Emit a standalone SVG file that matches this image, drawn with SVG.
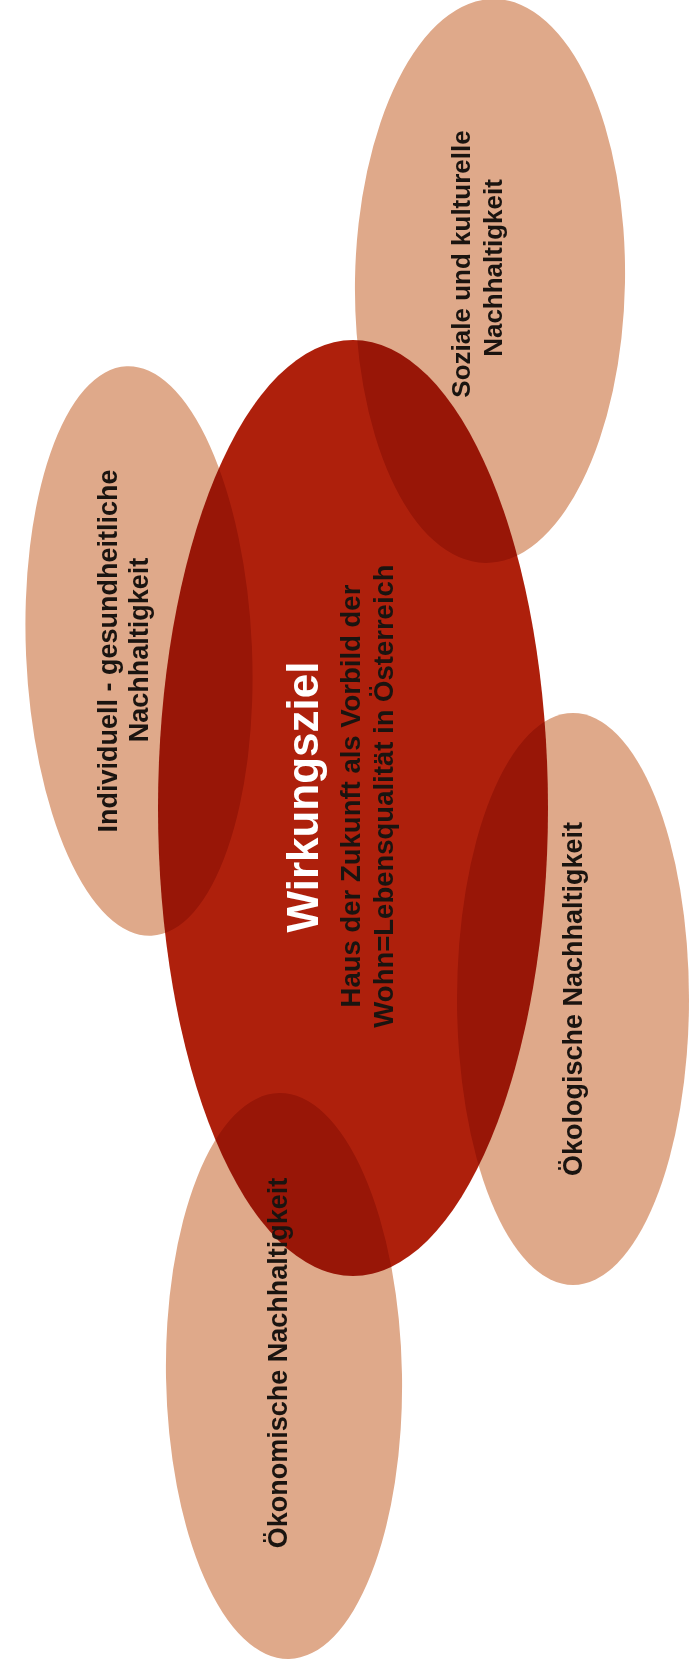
<svg xmlns="http://www.w3.org/2000/svg" width="690" height="1665" viewBox="0 0 690 1665">
<style>
.core{fill:#AE200C}
.leaf{fill:#DFA98A;mix-blend-mode:multiply}
.t{font-family:"Liberation Sans",Arial,sans-serif;font-weight:bold;text-anchor:middle;fill:#1a1410}
.lt{font-size:27px}
.title{font-family:"Liberation Sans",Arial,sans-serif;font-weight:bold;text-anchor:middle;fill:#ffffff;font-size:44px}
.sub{font-size:27.5px}
</style>
<rect width="690" height="1665" fill="#ffffff"/>
<g id="connectors"/>
<g id="wirkungsziel">
<ellipse class="core" cx="353" cy="808" rx="195" ry="468"/>
<text class="title" transform="translate(318,797) rotate(-90)">Wirkungsziel</text>
<text class="t sub" transform="translate(360,796) rotate(-90)">Haus der Zukunft als Vorbild der</text>
<text class="t sub" transform="translate(393,796) rotate(-90)">Wohn=Lebensqualität in Österreich</text>
</g>
<g id="sozial">
<ellipse class="leaf" cx="490" cy="281" rx="135" ry="282" transform="rotate(1 490 281)"/>
<text class="t lt" style="font-size:26px" transform="translate(470,264) rotate(-90)">Soziale und kulturelle</text>
<text class="t lt" style="font-size:26px" transform="translate(502,268) rotate(-90)">Nachhaltigkeit</text>
</g>
<g id="individuell">
<ellipse class="leaf" cx="139" cy="651" rx="113" ry="285" transform="rotate(-2.5 139 651)"/>
<text class="t lt" transform="translate(117,651) rotate(-90)">Individuell - gesundheitliche</text>
<text class="t lt" transform="translate(148,650) rotate(-90)">Nachhaltigkeit</text>
</g>
<g id="oekologisch">
<ellipse class="leaf" cx="573" cy="999" rx="116" ry="286"/>
<text class="t lt" transform="translate(582,999) rotate(-90)">Ökologische Nachhaltigkeit</text>
</g>
<g id="oekonomisch">
<ellipse class="leaf" cx="284" cy="1376" rx="118" ry="283" transform="rotate(-1 284 1376)"/>
<text class="t lt" transform="translate(287,1363) rotate(-90)">Ökonomische Nachhaltigkeit</text>
</g>
</svg>
